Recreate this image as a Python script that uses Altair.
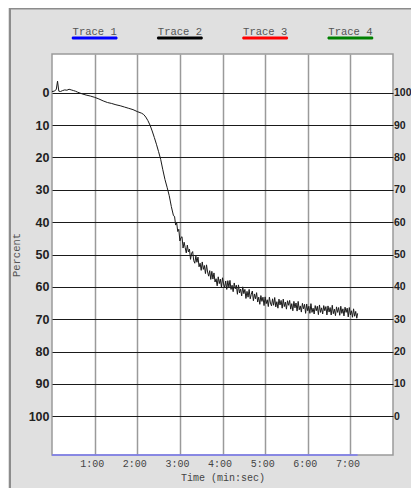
import altair as alt
import pandas as pd

# ---- data ----
trace2_time = [0.00, 0.05, 0.10, 0.13, 0.16, 0.20, 0.25, 0.30, 0.35, 0.40, 0.45, 0.50,
               0.55, 0.60, 0.70, 0.80, 0.90, 1.00, 1.10, 1.20, 1.30, 1.40, 1.50, 1.60,
               1.70, 1.80, 1.90, 2.00, 2.10, 2.15, 2.20, 2.25, 2.30, 2.35, 2.40, 2.45,
               2.50, 2.55, 2.60, 2.65, 2.70, 2.75, 2.80,
               2.850, 2.875, 2.900, 2.925, 2.950, 2.975, 3.000, 3.025, 3.050, 3.075,
               3.100, 3.125, 3.150, 3.175, 3.200, 3.225, 3.250, 3.275, 3.300, 3.325,
               3.350, 3.375, 3.400, 3.425, 3.450, 3.475, 3.500, 3.525, 3.550, 3.575,
               3.600, 3.625, 3.650, 3.675, 3.700, 3.725, 3.750, 3.775, 3.800, 3.825,
               3.850, 3.875, 3.900, 3.925, 3.950, 3.975, 4.000, 4.025, 4.050, 4.075,
               4.100, 4.125, 4.150, 4.175, 4.200, 4.225, 4.250, 4.275, 4.300, 4.325,
               4.350, 4.375, 4.400, 4.425, 4.450, 4.475, 4.500, 4.525, 4.550, 4.575,
               4.600, 4.625, 4.650, 4.675, 4.700, 4.725, 4.750, 4.775, 4.800, 4.825,
               4.850, 4.875, 4.900, 4.925, 4.950, 4.975, 5.000, 5.025, 5.050, 5.075,
               5.100, 5.125, 5.150, 5.175, 5.200, 5.225, 5.250, 5.275, 5.300, 5.325,
               5.350, 5.375, 5.400, 5.425, 5.450, 5.475, 5.500, 5.525, 5.550, 5.575,
               5.600, 5.625, 5.650, 5.675, 5.700, 5.725, 5.750, 5.775, 5.800, 5.825,
               5.850, 5.875, 5.900, 5.925, 5.950, 5.975, 6.000, 6.025, 6.050, 6.075,
               6.100, 6.125, 6.150, 6.175, 6.200, 6.225, 6.250, 6.275, 6.300, 6.325,
               6.350, 6.375, 6.400, 6.425, 6.450, 6.475, 6.500, 6.525, 6.550, 6.575,
               6.600, 6.625, 6.650, 6.675, 6.700, 6.725, 6.750, 6.775, 6.800, 6.825,
               6.850, 6.875, 6.900, 6.925, 6.950, 6.975, 7.000, 7.025, 7.050, 7.075,
               7.100, 7.125, 7.150, 7.170]
trace2_pct = [-0.4, -0.5, -1.0, -3.6, -0.5, -0.4, -0.7, -0.9, -0.8, -1.1, -0.9, -0.7,
              -0.5, -0.2, 0.3, 0.7, 1.0, 1.4, 1.9, 2.5, 3.0, 3.3, 3.7, 4.0,
              4.4, 4.8, 5.2, 5.8, 6.3, 6.7, 7.5, 8.6, 10.0, 11.8, 13.8, 15.9,
              18.2, 20.6, 23.8, 26.8, 29.2, 31.8, 35.2,
              38.0, 38.2, 40.9, 40.2, 42.9, 42.2, 45.8, 44.8, 44.5, 48.0,
              46.2, 47.9, 49.5, 47.1, 49.2, 48.3, 51.5, 49.6, 49.1, 51.9,
              52.7, 50.5, 52.4, 50.8, 53.8, 52.7, 54.9, 52.3, 54.6, 53.4,
              55.9, 53.2, 55.4, 56.7, 55.0, 57.7, 55.2, 57.6, 55.7, 58.5,
              57.5, 59.7, 56.9, 59.0, 57.6, 60.1, 57.2, 59.1, 60.2, 58.2,
              60.8, 58.1, 60.1, 58.0, 60.8, 59.5, 61.5, 58.8, 60.6, 59.5,
              62.3, 59.4, 61.9, 60.7, 62.8, 60.0, 62.1, 60.8, 63.6, 61.4,
              63.2, 60.8, 63.7, 62.3, 61.3, 64.3, 62.2, 63.7, 61.8, 64.7,
              63.2, 65.4, 62.7, 64.5, 63.2, 65.8, 63.1, 65.2, 64.0, 66.1,
              63.2, 65.0, 65.9, 63.7, 65.7, 63.3, 66.2, 64.6, 66.6, 63.8,
              65.6, 64.2, 66.6, 63.8, 66.1, 64.7, 66.9, 64.3, 65.7, 64.2,
              66.9, 65.2, 67.4, 64.5, 66.5, 65.0, 67.5, 64.5, 67.1, 65.9,
              67.8, 65.1, 66.8, 65.4, 68.2, 65.3, 67.4, 66.0, 68.2, 65.2,
              67.9, 66.6, 68.4, 65.8, 67.4, 66.0, 68.6, 65.6, 67.9, 66.5,
              68.4, 65.8, 67.4, 66.1, 68.7, 65.9, 67.8, 66.4, 68.7, 65.7,
              68.3, 66.9, 68.9, 66.2, 67.9, 66.4, 68.8, 66.0, 68.2, 66.8,
              69.0, 66.3, 67.9, 66.6, 69.3, 66.4, 68.7, 67.4, 69.4, 66.8,
              69.1, 67.6, 69.7, 68.2]

trace1_time = [0.0, 7.17]
trace1_pct = [112, 112]

legend_names = ["Trace 1", "Trace 2", "Trace 3", "Trace 4"]
legend_colors = ["#0000ff", "#000000", "#ff0000", "#008000"]

x_ticks = [1, 2, 3, 4, 5, 6, 7]
y_ticks = [0, 10, 20, 30, 40, 50, 60, 70, 80, 90, 100]
x_domain = [0, 8]
y_domain = [-12, 112]

W, H = 341, 401

df2 = pd.DataFrame({"t": trace2_time, "p": trace2_pct})
df1 = pd.DataFrame({"t": trace1_time, "p": trace1_pct})
leg = pd.DataFrame({"name": legend_names})
dummy = pd.DataFrame({"a": [0]})


def xs():
    return alt.Scale(domain=x_domain, nice=False, zero=False)


def ys():
    return alt.Scale(domain=y_domain, reverse=True, nice=False, zero=False)


def legx():
    return alt.Scale(type="point", domain=legend_names, padding=0.5)


x_axis = alt.Axis(values=x_ticks, labelExpr="datum.value + ':00'", title="Time (min:sec)",
                  grid=True, gridColor="#9a9a9a", gridWidth=1.5, domain=False, ticks=False,
                  labelFont="Liberation Mono", labelFontSize=10, labelColor="#444444",
                  labelPadding=3, labelOffset=-3,
                  titleFont="Liberation Mono", titleFontSize=10, titleFontWeight="normal",
                  titleColor="#444444", titlePadding=4)

y_axis_left = alt.Axis(values=y_ticks, orient="left", grid=True, gridColor="#1a1a1a",
                       gridWidth=1, domain=False, ticks=False,
                       labelFont="Liberation Sans", labelFontWeight="bold",
                       labelFontSize=12.5, labelColor="#222222", labelPadding=3,
                       title="Percent", titleFont="Liberation Mono", titleFontSize=10.5,
                       titleFontWeight="normal", titleColor="#555555", titlePadding=7)

y_axis_right = alt.Axis(values=y_ticks, orient="right", grid=False, domain=False, ticks=False,
                        labelExpr="100 - datum.value",
                        labelFont="Liberation Sans", labelFontWeight="bold",
                        labelFontSize=10.5, labelColor="#222222", labelPadding=0.5,
                        title=None)

main = alt.Chart(df2).mark_line(color="#1a1a1a", strokeWidth=1, clip=True).encode(
    x=alt.X("t:Q", scale=xs(), axis=x_axis),
    y=alt.Y("p:Q", scale=ys(), axis=y_axis_left),
)

t1 = alt.Chart(df1).mark_line(color="#7b7bf5", strokeWidth=1.5).encode(
    x=alt.X("t:Q", scale=xs(), axis=None),
    y=alt.Y("p:Q", scale=ys(), axis=None),
)

right = alt.Chart(df2).mark_line(opacity=0).encode(
    x=alt.X("t:Q", scale=xs(), axis=None),
    y=alt.Y("p:Q", scale=ys(), axis=y_axis_right),
)

leg_text = alt.Chart(leg).mark_text(font="Liberation Mono", fontSize=10.5, color="#555555",
                                    baseline="alphabetic", align="center").encode(
    x=alt.X("name:N", scale=legx(), axis=None),
    y=alt.value(-19),
    text="name:N",
)

leg_line = alt.Chart(leg).mark_tick(orient="horizontal", size=46, thickness=3,
                                    cornerRadius=1.5, opacity=1).encode(
    x=alt.X("name:N", scale=legx(), axis=None),
    y=alt.value(-16),
    color=alt.Color("name:N", scale=alt.Scale(domain=legend_names, range=legend_colors),
                    legend=None),
)

frame_left = alt.Chart(dummy).mark_rule(color="#8c8c8c", strokeWidth=2).encode(
    x=alt.value(-42), y=alt.value(-46), y2=alt.value(H + 46))
frame_top = alt.Chart(dummy).mark_rule(color="#8c8c8c", strokeWidth=2).encode(
    x=alt.value(-42), x2=alt.value(W + 30), y=alt.value(-45.5))

chart = alt.layer(main, t1, right, leg_text, leg_line, frame_left, frame_top).resolve_scale(
    x="independent", y="independent"
).properties(
    width=W, height=H,
    autosize=alt.AutoSizeParams(type="none"),
    padding={"left": 44, "top": 46, "right": 18, "bottom": 33},
    background="#e0e0e0",
).configure_view(fill="white", stroke="#9a9a9a", strokeWidth=1.5)

chart.save("out.html", embed_options={"renderer": "svg", "actions": False})
